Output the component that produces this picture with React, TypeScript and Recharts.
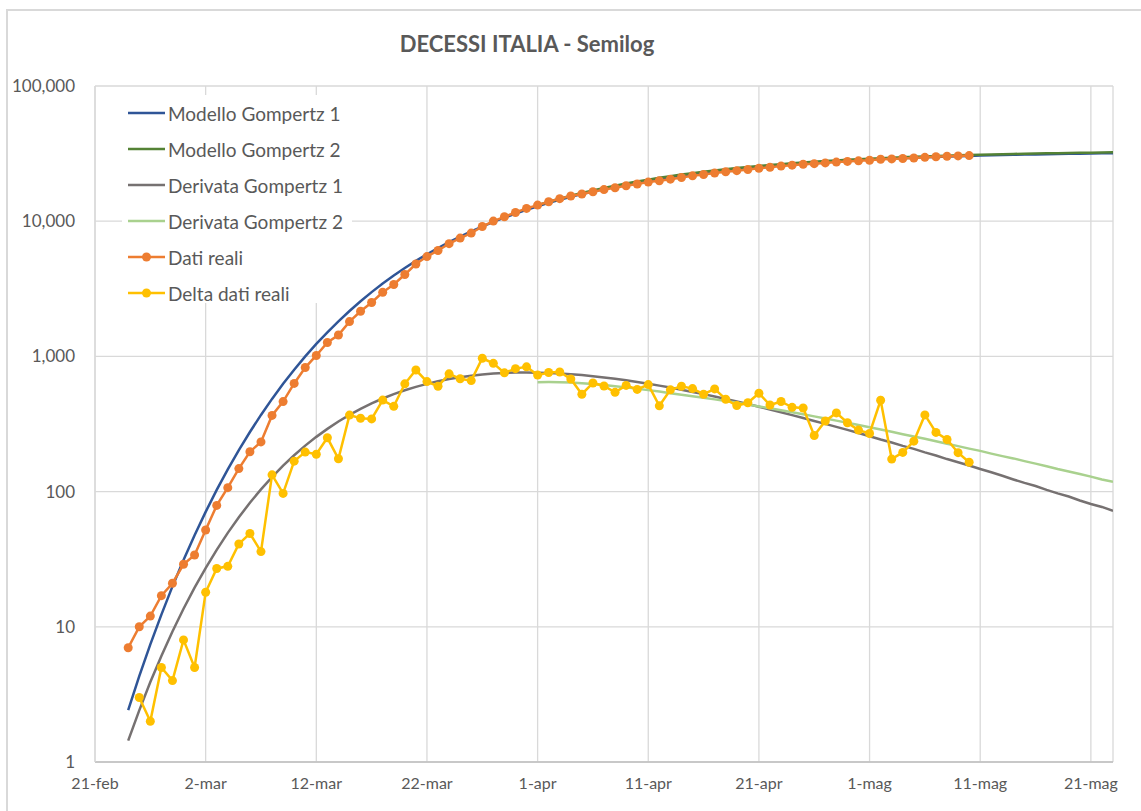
import { LineChart, Line, XAxis, YAxis, CartesianGrid, Legend } from "recharts";

// day 0 = 21-feb (2020); last day on the axis = 92 (23-mag)
const LAST_DAY = 92;
const TICK_DAYS = [0, 10, 20, 30, 40, 50, 60, 70, 80, 90];
const TICK_LABELS = ["21-feb", "2-mar", "12-mar", "22-mar", "1-apr", "11-apr", "21-apr", "1-mag", "11-mag", "21-mag"];
const Y_TICKS = [1, 10, 100, 1000, 10000, 100000];

// Modello Gompertz 1, from day 3
const GOMPERTZ_1_START = 3;
const gompertz1 = [
    2.42, 4.31, 7.41, 12.3, 19.9, 31.2, 47.6, 70.8, 103, 146, 203, 276, 369, 485, 627, 797, 1000, 1236, 1508, 1818,
    2167, 2558, 2988, 3458, 3961, 4507, 5086, 5695, 6337, 7003, 7696, 8405, 9133, 9874, 10623, 11382, 12140,
    12900, 13655, 14408, 15150, 15883, 16602, 17309, 18001, 18675, 19331, 19968, 20585, 21186, 21764, 22318,
    22856, 23371, 23866, 24341, 24793, 25225, 25641, 26037, 26413, 26773, 27116, 27440, 27750, 28043, 28321,
    28585, 28835, 29073, 29297, 29509, 29710, 29901, 30083, 30251, 30410, 30561, 30703, 30839, 30967, 31086,
    31198, 31307, 31406, 31502, 31588, 31673, 31749, 31825,
];

// Modello Gompertz 2, from day 40 (1-apr)
const GOMPERTZ_2_START = 40;
const gompertz2 = [
    13152, 13919, 14676, 15427, 16167, 16897, 17611, 18308, 18991, 19654, 20301, 20924, 21530, 22113, 22676,
    23216, 23738, 24237, 24720, 25179, 25617, 26036, 26435, 26813, 27179, 27527, 27855, 28167, 28465, 28746,
    29014, 29266, 29507, 29735, 29949, 30153, 30344, 30529, 30699, 30864, 31018, 31162, 31299, 31426, 31550,
    31664, 31771, 31872, 31969, 32060, 32143, 32224, 32304,
];

// Derivata Gompertz 1, from day 3
const DERIVATA_1_START = 3;
const derivata1 = [
    1.44, 2.41, 3.9, 6.08, 9.23, 13.6, 19.5, 27.2, 37.1, 49.5, 64.6, 82.7, 103.8, 128, 155.6, 185.8, 218.9, 254,
    291, 330, 369, 409, 449, 488, 526, 562, 595, 626, 655, 680, 701, 720, 734, 746, 754, 759, 760,
    758, 754, 748, 738, 727, 714, 699, 683, 666, 647, 628, 608, 588, 567, 546, 526, 505, 484, 464, 444,
    424, 405, 386, 368, 350, 333, 317, 301, 286, 271, 257, 243, 231, 218, 207, 195, 185, 174, 165, 156,
    147, 139, 131, 123, 116, 110, 103, 97, 92, 86, 81, 77, 72,
];

// Derivata Gompertz 2, from day 40
const DERIVATA_2_START = 40;
const derivata2 = [
    645, 646, 645, 641, 634, 625, 614, 602, 590, 577, 563, 549, 534, 521, 508, 495, 481, 467, 454, 440,
    426, 413, 399, 386, 373, 360, 347, 335, 323, 311, 299, 288, 277, 266, 256, 246, 236, 226, 217, 208,
    200, 191, 183, 176, 168, 161, 154, 147, 141, 135, 129, 123, 118,
];

// Dati reali (decessi cumulati), from day 3 (24-feb) to day 79 (10-mag)
const DATI_START = 3;
const datiReali = [
    7, 10, 12, 17, 21, 29, 34, 52, 79, 107, 148, 197, 233, 366, 463, 631, 827, 1016, 1266, 1441, 1809, 2158,
    2503, 2978, 3405, 4032, 4825, 5476, 6077, 6820, 7503, 8165, 9134, 10023, 10779, 11591, 12428, 13155,
    13915, 14681, 15362, 15887, 16523, 17127, 17669, 18279, 18849, 19468, 19899, 20465, 21067, 21645, 22170,
    22745, 23227, 23660, 24114, 24648, 25085, 25549, 25969, 26384, 26644, 26977, 27359, 27682, 27967, 28236,
    28710, 28884, 29079, 29315, 29684, 29958, 30201, 30395, 30560,
];

// Delta dati reali, from day 4
const DELTA_START = 4;
const deltaDati = [
    3, 2, 5, 4, 8, 5, 18, 27, 28, 41, 49, 36, 133, 97, 168, 196, 189, 250, 175, 368, 349, 345, 475, 427, 627,
    793, 651, 601, 743, 683, 662, 969, 889, 756, 812, 837, 727, 760, 766, 681, 525, 636, 604, 542, 610, 570,
    619, 431, 566, 602, 578, 525, 575, 482, 433, 454, 534, 437, 464, 420, 415, 260, 333, 382, 323, 285, 269,
    474, 174, 195, 236, 369, 274, 243, 194, 165,
];

const SERIES_NAMES = [
    "Modello Gompertz 1",
    "Modello Gompertz 2",
    "Derivata Gompertz 1",
    "Derivata Gompertz 2",
    "Dati reali",
    "Delta dati reali",
];

type Row = { day: number; [key: string]: number };

const rows: Row[] = Array.from({ length: LAST_DAY + 1 }, (_, d) => ({ day: d }));
const put = (key: string, start: number, values: number[]) => {
    values.forEach((v, i) => {
        rows[start + i][key] = v;
    });
};
put("g1", GOMPERTZ_1_START, gompertz1);
put("g2", GOMPERTZ_2_START, gompertz2);
put("d1", DERIVATA_1_START, derivata1);
put("d2", DERIVATA_2_START, derivata2);
put("reali", DATI_START, datiReali);
put("delta", DELTA_START, deltaDati);

const FONT = "Lato, 'Open Sans', sans-serif";
const TEXT = "#595959";
const GRID = "#d9d9d9";
const WITH_MARKER = ["Dati reali", "Delta dati reali"];

const renderLegend = (props: any) => {
    const payload = [...(props.payload || [])].sort(
        (a: any, b: any) => SERIES_NAMES.indexOf(a.value) - SERIES_NAMES.indexOf(b.value)
    );
    return (
        <div style={{ background: "#fff", width: 230, height: 208, fontFamily: FONT, overflow: "hidden" }}>
            {payload.map((entry: any) => (
                <div
                    key={entry.value}
                    style={{ display: "flex", alignItems: "center", height: 36 }}
                >
                    <svg width={46} height={12} style={{ flex: "none" }}>
                        <line x1={6} y1={6} x2={43} y2={6} stroke={entry.color} strokeWidth={2.5} />
                        {WITH_MARKER.includes(entry.value) && (
                            <circle cx={24.5} cy={6} r={4.5} fill={entry.color} />
                        )}
                    </svg>
                    <span style={{ fontSize: 19, color: TEXT, whiteSpace: "nowrap" }}>{entry.value}</span>
                </div>
            ))}
        </div>
    );
};

export default function App() {
    return (
        <div style={{ position: "absolute", left: 0, top: 0, width: 1141, height: 811, background: "#fff", overflow: "hidden" }}>
            <div
                style={{
                    position: "absolute",
                    left: 6,
                    top: 9,
                    width: 1135,
                    height: 802,
                    borderLeft: `2px solid ${GRID}`,
                    borderTop: `2px solid ${GRID}`,
                    boxSizing: "border-box",
                }}
            />
            <div
                style={{
                    position: "absolute",
                    left: 0,
                    top: 30,
                    width: 1054,
                    textAlign: "center",
                    fontFamily: FONT,
                    fontWeight: 700,
                    fontSize: 22,
                    color: TEXT,
                }}
            >
                DECESSI ITALIA - Semilog
            </div>
            <div style={{ position: "absolute", left: 0, top: 0 }}>
                <LineChart
                    width={1141}
                    height={811}
                    data={rows}
                    margin={{ top: 86, right: 28, bottom: 0, left: 0 }}
                >
                    <CartesianGrid stroke={GRID} strokeWidth={1.3} />
                    <XAxis
                        dataKey="day"
                        type="number"
                        domain={[0, LAST_DAY]}
                        ticks={TICK_DAYS}
                        tickFormatter={(d: number) => TICK_LABELS[TICK_DAYS.indexOf(d)]}
                        interval={0}
                        height={49}
                        tickSize={0}
                        tickMargin={16}
                        axisLine={{ stroke: "#bfbfbf", strokeWidth: 1.3 }}
                        tick={{ fontFamily: FONT, fontSize: 16, fill: TEXT }}
                        allowDataOverflow
                    />
                    <YAxis
                        scale="log"
                        type="number"
                        domain={[1, 100000]}
                        ticks={Y_TICKS}
                        interval={0}
                        width={95}
                        tickSize={0}
                        tickMargin={20}
                        axisLine={{ stroke: GRID, strokeWidth: 1.3 }}
                        tick={{ fontFamily: FONT, fontSize: 17, fill: TEXT }}
                        tickFormatter={(v: number) => v.toLocaleString("en-US")}
                        allowDataOverflow
                    />
                    <Legend
                        layout="vertical"
                        align="center"
                        verticalAlign="middle"
                        content={renderLegend}
                        wrapperStyle={{ left: 122, top: 95, width: 230, height: 208 }}
                    />
                    <Line dataKey="g1" name="Modello Gompertz 1" stroke="#2f5597" strokeWidth={2.5} dot={false} isAnimationActive={false} />
                    <Line dataKey="g2" name="Modello Gompertz 2" stroke="#548235" strokeWidth={2.5} dot={false} isAnimationActive={false} />
                    <Line dataKey="d1" name="Derivata Gompertz 1" stroke="#767171" strokeWidth={2.5} dot={false} isAnimationActive={false} />
                    <Line dataKey="d2" name="Derivata Gompertz 2" stroke="#a9d18e" strokeWidth={2.5} dot={false} isAnimationActive={false} />
                    <Line
                        dataKey="reali"
                        name="Dati reali"
                        stroke="#ed7d31"
                        strokeWidth={2.5}
                        dot={{ r: 4.5, fill: "#ed7d31", stroke: "none" }}
                        isAnimationActive={false}
                    />
                    <Line
                        dataKey="delta"
                        name="Delta dati reali"
                        stroke="#ffc000"
                        strokeWidth={2.5}
                        dot={{ r: 4.5, fill: "#ffc000", stroke: "none" }}
                        isAnimationActive={false}
                    />
                </LineChart>
            </div>
        </div>
    );
}
